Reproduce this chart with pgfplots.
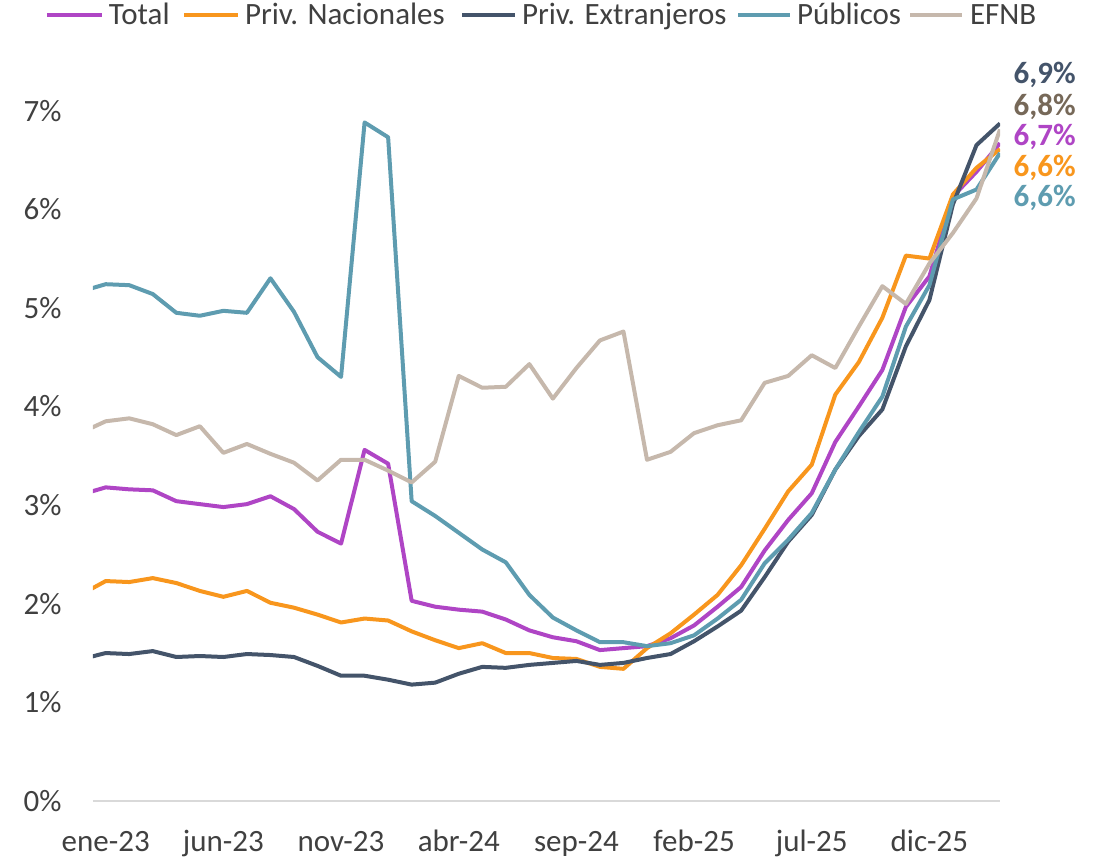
\documentclass[border=0pt]{standalone}
\usepackage{fontspec}
\setmainfont{Carlito}
\usepackage{pgfplots}
\usepackage{pgfplotstable}
\pgfplotsset{compat=1.18}
\definecolor{cTot}{RGB}{175,69,197}
\definecolor{cNac}{RGB}{248,150,29}
\definecolor{cExt}{RGB}{68,84,106}
\definecolor{cPub}{RGB}{94,156,176}
\definecolor{cEfn}{RGB}{198,184,172}
\definecolor{cEfnLab}{RGB}{118,104,88}
\definecolor{cText}{RGB}{64,64,64}
\definecolor{cAxis}{RGB}{217,217,217}
\pgfplotstableread{
idx tot nac ext pub efnb
-1 3.11 2.10 1.44 5.17 3.74
0 3.18 2.23 1.50 5.24 3.85
1 3.16 2.22 1.49 5.23 3.88
2 3.15 2.26 1.52 5.14 3.82
3 3.04 2.21 1.46 4.95 3.71
4 3.01 2.13 1.47 4.92 3.80
5 2.98 2.07 1.46 4.97 3.53
6 3.01 2.13 1.49 4.95 3.62
7 3.09 2.01 1.48 5.30 3.52
8 2.96 1.96 1.46 4.96 3.43
9 2.73 1.89 1.37 4.50 3.25
10 2.61 1.81 1.27 4.30 3.46
11 3.56 1.85 1.27 6.88 3.46
12 3.42 1.83 1.23 6.73 3.35
13 2.03 1.72 1.18 3.04 3.23
14 1.97 1.63 1.20 2.89 3.44
15 1.94 1.55 1.29 2.72 4.31
16 1.92 1.60 1.36 2.55 4.19
17 1.84 1.50 1.35 2.42 4.20
18 1.73 1.50 1.38 2.09 4.43
19 1.66 1.45 1.40 1.86 4.08
20 1.62 1.44 1.42 1.73 4.39
21 1.53 1.36 1.38 1.61 4.67
22 1.55 1.34 1.40 1.61 4.76
23 1.57 1.55 1.45 1.57 3.46
24 1.65 1.70 1.49 1.60 3.54
25 1.78 1.89 1.62 1.68 3.73
26 1.97 2.09 1.77 1.85 3.81
27 2.17 2.39 1.93 2.04 3.86
28 2.54 2.76 2.27 2.41 4.24
29 2.85 3.14 2.63 2.65 4.31
30 3.12 3.41 2.90 2.92 4.52
31 3.64 4.12 3.36 3.36 4.39
32 4.00 4.45 3.70 3.74 4.81
33 4.37 4.90 3.97 4.10 5.22
34 5.01 5.53 4.61 4.81 5.04
35 5.32 5.50 5.08 5.23 5.45
36 6.13 6.15 6.05 6.10 5.76
37 6.38 6.42 6.65 6.20 6.11
38 6.67 6.61 6.87 6.57 6.81
}\datatable
\begin{document}
\fontsize{15.5}{18}\selectfont
\begin{tikzpicture}
\path[use as bounding box] (-46.5pt,-29.5pt) rectangle (504pt,400.5pt);
\begin{axis}[
  at={(0pt,0pt)}, anchor=south west,
  scale only axis,
  width=453.5pt, height=394.5pt,
  xmin=-0.54, xmax=38, ymin=0, ymax=8,
  axis x line*=bottom, axis y line*=left,
  x axis line style={draw=cAxis, line width=1pt},
  y axis line style={draw=none},
  major tick length=0pt,
  xtick={0,5,10,15,20,25,30,35},
  xticklabels={ene-23,jun-23,nov-23,abr-24,sep-24,feb-25,jul-25,dic-25},
  ytick={0,1,2,3,4,5,6,7},
  yticklabels={0\%,1\%,2\%,3\%,4\%,5\%,6\%,7\%},
  xticklabel style={anchor=base, inner sep=0pt, yshift=-25.5pt, text=cText},
  yticklabel style={anchor=east, inner sep=0pt, xshift=-15.5pt, text=cText},
  clip mode=individual,
  every axis plot/.append style={line width=2pt, line join=round, no markers},
]
\addplot[cTot] table[x=idx, y=tot] {\datatable};
\addplot[cNac] table[x=idx, y=nac] {\datatable};
\addplot[cExt] table[x=idx, y=ext] {\datatable};
\addplot[cPub] table[x=idx, y=pub] {\datatable};
\addplot[cEfn] table[x=idx, y=efnb] {\datatable};
\node[anchor=west, inner sep=0pt, font=\bfseries, text=cExt] at (axis cs:38.56,7.363) {6,9\%};
\node[anchor=west, inner sep=0pt, font=\bfseries, text=cEfnLab] at (axis cs:38.56,7.039) {6,8\%};
\node[anchor=west, inner sep=0pt, font=\bfseries, text=cTot] at (axis cs:38.56,6.734) {6,7\%};
\node[anchor=west, inner sep=0pt, font=\bfseries, text=cNac] at (axis cs:38.56,6.420) {6,6\%};
\node[anchor=west, inner sep=0pt, font=\bfseries, text=cPub] at (axis cs:38.56,6.116) {6,6\%};
\end{axis}
% legend
\begin{scope}[line width=2pt]
\draw[cTot] (-23pt,393pt) -- (4.5pt,393pt);
\node[anchor=base west, inner sep=0pt, text=cText] at (7pt,388pt) {Total};
\draw[cNac] (45.5pt,393pt) -- (72.5pt,393pt);
\node[anchor=base west, inner sep=0pt, text=cText] at (75pt,388pt) {Priv. Nacionales};
\draw[cExt] (184.5pt,393pt) -- (211pt,393pt);
\node[anchor=base west, inner sep=0pt, text=cText] at (213.5pt,388pt) {Priv. Extranjeros};
\draw[cPub] (322.5pt,393pt) -- (348.5pt,393pt);
\node[anchor=base west, inner sep=0pt, text=cText] at (351pt,388pt) {Públicos};
\draw[cEfn] (408.5pt,393pt) -- (434.5pt,393pt);
\node[anchor=base west, inner sep=0pt, text=cText] at (437.5pt,388pt) {EFNB};
\end{scope}
\end{tikzpicture}
\end{document}
